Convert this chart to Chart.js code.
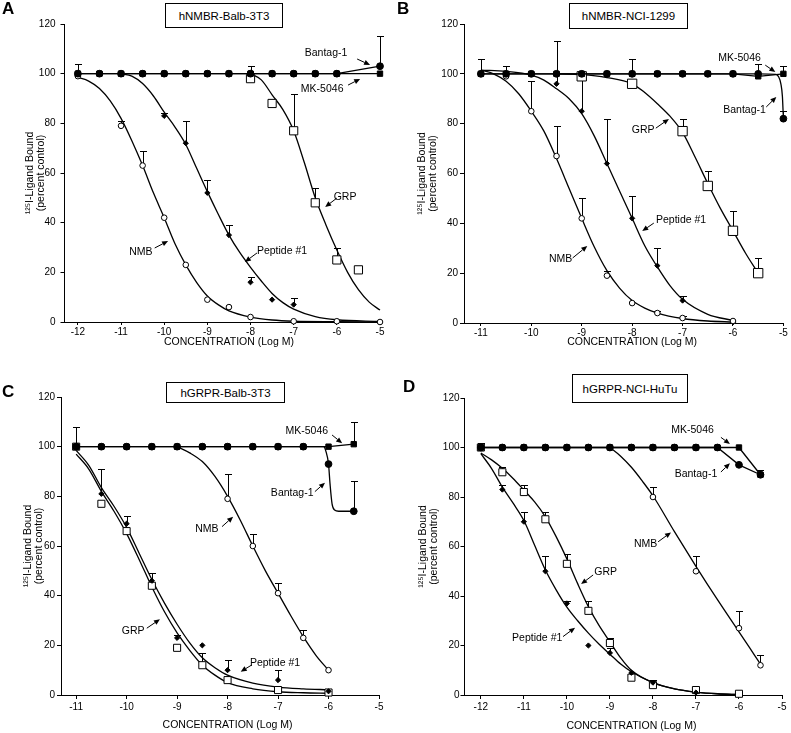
<!DOCTYPE html>
<html><head><meta charset="utf-8">
<script src="https://cdn.jsdelivr.net/npm/chart.js@4/dist/chart.umd.min.js"></script>
<style>
html,body{margin:0;padding:0;background:#fff;overflow:hidden;width:791px;height:733px}
.panel{position:absolute}
.letter{position:absolute;font:bold 17px "Liberation Sans",Arial,sans-serif;line-height:17px;color:#000}
.tbox{position:absolute;border:1px solid #000;box-sizing:border-box;display:flex;align-items:center;justify-content:center;font:11.5px "Liberation Sans",Arial,sans-serif;color:#000;background:#fff}
</style></head><body>
<script>
// ================= DATA =================
const panelLetters = ['A','B','C','D'];
const panelTitles = ['hNMBR-Balb-3T3','hNMBR-NCI-1299','hGRPR-Balb-3T3','hGRPR-NCI-HuTu'];
const xTitle = 'CONCENTRATION (Log M)';
const yTitle = ['\u00B9\u00B2\u2075I-Ligand Bound','(percent control)'];
const xTicksA = [-12,-11,-10,-9,-8,-7,-6,-5];
const xTicksB = [-11,-10,-9,-8,-7,-6,-5];
const xTicksC = [-11,-10,-9,-8,-7,-6,-5];
const xTicksD = [-12,-11,-10,-9,-8,-7,-6,-5];
const yTicks = [0,20,40,60,80,100,120];

// ---- Panel A: hNMBR-Balb-3T3 ----
const A_mk_x = [-12,-11.5,-11,-10.5,-10,-9.5,-9,-8.5,-8,-7.5,-7,-6.5,-6,-5];
const A_mk_y = [100,100,100,100,100,100,100,100,100,100,100,100,100,100];
const A_mk_e = [104,null,null,null,null,null,null,null,103,null,null,null,null,null];
const A_bt_x = [-12,-11.5,-11,-10.5,-10,-9.5,-9,-8.5,-8,-7.5,-7,-6.5,-6,-5];
const A_bt_y = [100,100,100,100,100,100,100,100,100,100,100,100,100,103];
const A_bt_e = [null,null,null,null,null,null,null,null,null,null,null,null,null,115];
const A_nmb_x = [-12,-11,-10.5,-10,-9.5,-9,-8.5,-8,-7,-6,-5];
const A_nmb_y = [99,79,63,42,23,9,6,2,0.3,0.3,0];
const A_nmb_e = [null,81,69,null,null,null,null,null,null,null,null];
const A_pep_x = [-10,-9.5,-9,-8.5,-8,-7.5,-7];
const A_pep_y = [83,72,52,35,16,9,7];
const A_pep_e = [84,81,57,39,18,null,9.5];
const A_grp_x = [-8,-7.5,-7,-6.5,-6,-5.5];
const A_grp_y = [98,88,77,48,25,21];
const A_grp_e = [null,null,92,54,30,null];
const A_nmb_cx = [-12,-11.75,-11.5,-11.25,-11,-10.75,-10.5,-10.25,-10,-9.75,-9.5,-9.25,-9,-8.75,-8.5,-8,-7.5,-7,-6,-5];
const A_nmb_cy = [98.5,97,94,89,82,73,63,52,42,31.5,23,16,10.5,7,4.5,2,0.8,0.3,0.1,0];
const A_pep_cx = [-11,-10.75,-10.5,-10.25,-10,-9.75,-9.5,-9.25,-9,-8.75,-8.5,-8.25,-8,-7.75,-7.5,-7.25,-7,-6.5,-6,-5];
const A_pep_cy = [100,99,96,91,84.5,78.5,71.5,62,52.5,43.5,35,28,22,16.5,11.5,7.8,5.2,2.2,0.9,0.2];
const A_grp_cx = [-8,-7.75,-7.5,-7.25,-7,-6.75,-6.5,-6.25,-6,-5.75,-5.5,-5.25,-5];
const A_grp_cy = [100,97.5,91.5,85.5,77,64,50,39,29,20,13,8,4.8];

// ---- Panel B: hNMBR-NCI-1299 ----
const B_mk_x = [-11,-10.5,-10,-9.5,-9,-8.5,-8,-7.5,-7,-6.5,-6,-5.5,-5];
const B_mk_y = [100,100,100,100,100,100,100,100,100,100,100,99,100];
const B_mk_e = [106,103,null,null,null,null,106,null,null,null,null,104,103];
const B_bt_x = [-11,-10.5,-10,-9.5,-9,-8.5,-8,-7.5,-7,-6.5,-6,-5.5,-5];
const B_bt_y = [100,100,100,100,100,100,100,100,100,100,100,100,82];
const B_bt_e = [null,null,null,null,null,null,null,null,null,null,null,null,85];
const B_nmb_x = [-11,-10.5,-10,-9.5,-9,-8.5,-8,-7.5,-7,-6];
const B_nmb_y = [100,99,85,67,42,19,8,4,2,0.8];
const B_nmb_e = [null,null,97,79,50,21,null,5,3,null];
const B_pep_x = [-9.5,-9,-8.5,-8,-7.5,-7,-6];
const B_pep_y = [96,85,64,42,23,9,0.3];
const B_pep_e = [113,100,82,51,30,11,null];
const B_grp_x = [-9,-8,-7,-6.5,-6,-5.5];
const B_grp_y = [99,96,77,55,37,20];
const B_grp_e = [null,null,82,61,45,26];
const B_nmb_cx = [-11,-10.75,-10.5,-10.25,-10,-9.75,-9.5,-9.25,-9,-8.75,-8.5,-8.25,-8,-7.75,-7.5,-7,-6.5,-6];
const B_nmb_cy = [101.5,100,97,92,85,77,66,54,42,30.5,21,14,9,6,4,1.8,0.8,0.4];
const B_pep_cx = [-11,-10.5,-10,-9.75,-9.5,-9.25,-9,-8.75,-8.5,-8.25,-8,-7.75,-7.5,-7.25,-7,-6.5,-6];
const B_pep_cy = [101.5,101,99.5,97.5,94,90,84,75,64,53,42,31,22.5,15,9.5,3.5,1];
const B_grp_cx = [-9.5,-9,-8.5,-8,-7.75,-7.5,-7.25,-7,-6.75,-6.5,-6.25,-6,-5.75,-5.5];
const B_grp_cy = [100,99.7,98.5,96,92.5,88,83,76.5,66.5,56,46,37,28,20];
const B_bt_cx = [-11,-5.5,-5.15,-5.1,-5.05,-5.02,-5];
const B_bt_cy = [100,100,99.8,99,96,91,82];

// ---- Panel C: hGRPR-Balb-3T3 ----
const C_mk_x = [-11,-10.5,-10,-9.5,-9,-8.5,-8,-7.5,-7,-6.5,-6,-5.5];
const C_mk_y = [100,100,100,100,100,100,100,100,100,100,100,101];
const C_mk_e = [108,null,null,null,null,null,null,null,null,null,null,110];
const C_bt_x = [-11,-10.5,-10,-9.5,-9,-8.5,-8,-7.5,-7,-6.5,-6,-5.5];
const C_bt_y = [100,100,100,100,100,100,100,100,100,100,93,74];
const C_bt_e = [null,null,null,null,null,null,null,null,null,null,null,86];
const C_nmb_x = [-8,-7.5,-7,-6.5,-6];
const C_nmb_y = [79,60,41,23,10];
const C_nmb_e = [89,65,45,26,null];
const C_grp_x = [-11,-10.5,-10,-9.5,-9,-8.5,-8,-7,-6];
const C_grp_y = [100,77,66,44,19,12,6,2,1];
const C_grp_e = [null,null,null,null,null,17,null,null,null];
const C_pep_x = [-10.5,-10,-9.5,-9,-8.5,-8,-7,-6];
const C_pep_y = [81,69,46,23,20,10,6,1.5];
const C_pep_e = [91,72,49,24,null,14,10,null];
const C_nmb_cx = [-9,-8.75,-8.5,-8.25,-8,-7.75,-7.5,-7.25,-7,-6.75,-6.5,-6.25,-6];
const C_nmb_cy = [100,97.5,94,88,80,70.5,60,50,41,32,23.5,16,10];
const C_grp_cx = [-11,-10.75,-10.5,-10.25,-10,-9.75,-9.5,-9.25,-9,-8.75,-8.5,-8.25,-8,-7.5,-7,-6.5,-6];
const C_grp_cy = [97,91,82,74,65,54.5,43.5,33.5,25,18,12,8,5,2.5,1.3,0.9,0.7];
const C_pep_cx = [-11,-10.75,-10.5,-10.25,-10,-9.75,-9.5,-9.25,-9,-8.75,-8.5,-8.25,-8,-7.5,-7,-6.5,-6];
const C_pep_cy = [98.5,92.5,83.5,76,67.5,57,46.5,37,28.5,21,15,11,8,4.8,3.2,2.5,2.1];
const C_bt_cx = [-11,-6.1,-6.05,-6,-5.97,-5.93,-5.88,-5.8,-5.5];
const C_bt_cy = [100,100,98,93,85,77,74.5,74,74];

// ---- Panel D: hGRPR-NCI-HuTu ----
const D_mk_x = [-12,-11.5,-11,-10.5,-10,-9.5,-9,-8.5,-8,-7.5,-7,-6.5,-6,-5.5];
const D_mk_y = [100,100,100,100,100,100,100,100,100,100,100,100,100,89];
const D_mk_e = [102,null,null,null,null,null,null,null,null,null,null,null,null,91];
const D_bt_x = [-12,-11.5,-11,-10.5,-10,-9.5,-9,-8.5,-8,-7.5,-7,-6.5,-6,-5.5];
const D_bt_y = [100,100,100,100,100,100,100,100,100,100,100,100,93,89];
const D_bt_e = [null,null,null,null,null,null,null,null,null,null,null,null,null,null];
const D_nmb_x = [-8,-7,-6,-5.5];
const D_nmb_y = [80,50,27,12];
const D_nmb_e = [84,56,34,16];
const D_grp_x = [-12,-11.5,-11,-10.5,-10,-9.5,-9,-8.5,-8,-7,-6];
const D_grp_y = [100,90,82,71,53,34,21,7,4,2,0.5];
const D_grp_e = [null,92,85,74,57,38,23,null,6,null,null];
const D_pep_x = [-11.5,-11,-10.5,-10,-9.5,-9,-8.5,-8,-7];
const D_pep_y = [83,70,50,37,20,17,9,5,1];
const D_pep_e = [85,74,56,38,null,19,null,null,null];
const D_nmb_cx = [-9,-8.75,-8.5,-8.25,-8,-7.5,-7,-6.5,-6,-5.75,-5.5];
const D_nmb_cy = [100,96.5,92,86.5,80.5,66,52,38.5,25.5,19,12.5];
const D_grp_cx = [-12,-11.75,-11.5,-11.25,-11,-10.75,-10.5,-10.25,-10,-9.75,-9.5,-9.25,-9,-8.75,-8.5,-8,-7.5,-7,-6.5,-6];
const D_grp_cy = [97.8,95,91.6,87.5,82.8,78,72,64,55,45,35.7,28,21.5,15,10,5,2.5,1.2,0.5,0.2];
const D_pep_cx = [-12,-11.75,-11.5,-11.25,-11,-10.75,-10.5,-10.25,-10,-9.75,-9.5,-9.25,-9,-8.75,-8.5,-8,-7.5,-7,-6.5,-6];
const D_pep_cy = [97.5,91.5,84,77.5,70.5,60.5,50.5,42.5,35.5,30,25,20.5,16.5,12.5,9.4,5,2.5,1.2,0.5,0.2];

// ================= LAYOUT / STYLE =================
const FONT = '"Liberation Sans", Arial, sans-serif';
const layouts = [
  {left:0,   top:0,   w:395, h:360, area:{l:64.5,t:24,r:380,b:322}, xmin:-12.31, xt:xTicksA, tl:3, tpx:1, tpy:5,   ytPad:24.5, xtY:342, box:[165,3,118,25],  let:[2,0]},
  {left:395, top:0,   w:396, h:360, area:{l:69,  t:24,r:390,b:323}, xmin:-11.335,xt:xTicksB, tl:3, tpx:1, tpy:2,   ytPad:22,   xtY:342, box:[174,3,119,26],  let:[2,0]},
  {left:0,   top:360, w:395, h:373, area:{l:61,  t:37,r:379,b:335}, xmin:-11.30, xt:xTicksC, tl:4, tpx:2, tpy:2,   ytPad:22.5, xtY:365, box:[166,22,119,21], let:[2,23]},
  {left:395, top:360, w:396, h:373, area:{l:69.5,t:38,r:387,b:335}, xmin:-12.38, xt:xTicksD, tl:4, tpx:2, tpy:1,   ytPad:22.5, xtY:366, box:[177,14,116,29], let:[8,18]}
];
const styles = {
  'MK-5046':   {pointStyle:'rect',    r:3.8, fill:'#000'},
  'Bantag-1':  {pointStyle:'circle',  r:3.4, fill:'#000'},
  'NMB':       {pointStyle:'circle',  r:2.8, fill:'#fff'},
  'Peptide #1':{pointStyle:'rectRot', r:2.6, fill:'#000'},
  'GRP':       {pointStyle:'rect',    r:5.6, fill:'#fff'}
};
const grpSize = [5.8, 6.6, 5.0, 5.0];

const annotations = [
  [ {t:'Bantag-1', x:-6.25, y:108.3, a:[-5.53,105.9,-5.23,103.5]},
    {t:'MK-5046', x:-6.34, y:93.8, a:[-5.74,95.4,-5.46,97.9]},
    {t:'GRP', x:-5.81, y:50.3, a:[-6.0,49.9,-6.27,46.3]},
    {t:'NMB', x:-10.54, y:28.2, a:[-10.22,29.8,-9.91,32.6]},
    {t:'Peptide #1', x:-7.27, y:28.6, a:[-7.85,27.8,-8.13,24.2]} ],
  [ {t:'MK-5046', x:-5.87, y:106.3, a:[-5.36,103.5,-5.16,100.7]},
    {t:'Bantag-1', x:-5.77, y:85.5, a:[-5.34,86.7,-5.14,90.7]},
    {t:'GRP', x:-7.78, y:77.4, a:[-7.53,78.2,-7.27,81.9]},
    {t:'Peptide #1', x:-7.03, y:41.3, a:[-7.57,40.1,-7.80,36.9]},
    {t:'NMB', x:-9.42, y:25.7, a:[-9.18,26.1,-8.89,30.9]} ],
  [ {t:'MK-5046', x:-6.43, y:106.3, a:[-5.93,104.7,-5.73,101.4]},
    {t:'Bantag-1', x:-6.72, y:81.4, a:[-6.27,81.9,-6.07,85.5]},
    {t:'NMB', x:-8.41, y:66.9, a:[-8.11,67.8,-7.89,71.8]},
    {t:'GRP', x:-9.87, y:25.8, a:[-9.60,26.9,-9.34,30.5]},
    {t:'Peptide #1', x:-7.06, y:12.9, a:[-7.52,12.1,-7.74,9.4]} ],
  [ {t:'MK-5046', x:-7.08, y:107.1, a:[-6.42,104.1,-6.21,101.4]},
    {t:'Bantag-1', x:-7.0, y:89.3, a:[-6.42,90.1,-6.21,93.6]},
    {t:'NMB', x:-8.17, y:61.0, a:[-7.88,61.9,-7.58,65.7]},
    {t:'GRP', x:-9.10, y:49.7, a:[-9.39,48.5,-9.67,44.8]},
    {t:'Peptide #1', x:-10.69, y:23.0, a:[-10.09,23.6,-9.81,27.2]} ]
];

// ================= BUILDERS =================
function pts(xs, ys){ return xs.map((x,i)=>({x:x, y:ys[i]})); }
function markerDS(name, xs, ys, es, line, rOverride){
  const s = styles[name];
  return {label:name, data:pts(xs,ys), errHi:es, showLine:!!line, tension:0,
    borderColor:'#000', borderWidth:1.3, pointStyle:s.pointStyle, pointRadius:rOverride||s.r,
    pointBackgroundColor:s.fill, pointBorderColor:'#000', pointBorderWidth:1,
    order:0, clip:false};
}
function curveDS(name, xs, ys){
  return {label:name+' fit', data:pts(xs,ys), showLine:true, pointRadius:0, borderColor:'#000',
    borderWidth:1.3, cubicInterpolationMode:'monotone', order:1, clip:false, fill:false};
}

const panelDatasets = [
  [ markerDS('Bantag-1',A_bt_x,A_bt_y,A_bt_e,true), markerDS('MK-5046',A_mk_x,A_mk_y,A_mk_e,true),
    markerDS('NMB',A_nmb_x,A_nmb_y,A_nmb_e), markerDS('Peptide #1',A_pep_x,A_pep_y,A_pep_e),
    markerDS('GRP',A_grp_x,A_grp_y,A_grp_e,false,grpSize[0]),
    curveDS('NMB',A_nmb_cx,A_nmb_cy), curveDS('Peptide #1',A_pep_cx,A_pep_cy), curveDS('GRP',A_grp_cx,A_grp_cy) ],
  [ markerDS('Bantag-1',B_bt_x,B_bt_y,B_bt_e), markerDS('MK-5046',B_mk_x,B_mk_y,B_mk_e,true),
    markerDS('NMB',B_nmb_x,B_nmb_y,B_nmb_e), markerDS('Peptide #1',B_pep_x,B_pep_y,B_pep_e),
    markerDS('GRP',B_grp_x,B_grp_y,B_grp_e,false,grpSize[1]),
    curveDS('NMB',B_nmb_cx,B_nmb_cy), curveDS('Peptide #1',B_pep_cx,B_pep_cy), curveDS('GRP',B_grp_cx,B_grp_cy),
    curveDS('Bantag-1',B_bt_cx,B_bt_cy) ],
  [ markerDS('Bantag-1',C_bt_x,C_bt_y,C_bt_e), markerDS('MK-5046',C_mk_x,C_mk_y,C_mk_e,true),
    markerDS('NMB',C_nmb_x,C_nmb_y,C_nmb_e), markerDS('Peptide #1',C_pep_x,C_pep_y,C_pep_e),
    markerDS('GRP',C_grp_x,C_grp_y,C_grp_e,false,grpSize[2]),
    curveDS('NMB',C_nmb_cx,C_nmb_cy), curveDS('Peptide #1',C_pep_cx,C_pep_cy), curveDS('GRP',C_grp_cx,C_grp_cy),
    curveDS('Bantag-1',C_bt_cx,C_bt_cy) ],
  [ markerDS('Bantag-1',D_bt_x,D_bt_y,D_bt_e,true), markerDS('MK-5046',D_mk_x,D_mk_y,D_mk_e,true),
    markerDS('NMB',D_nmb_x,D_nmb_y,D_nmb_e), markerDS('Peptide #1',D_pep_x,D_pep_y,D_pep_e),
    markerDS('GRP',D_grp_x,D_grp_y,D_grp_e,false,grpSize[3]),
    curveDS('NMB',D_nmb_cx,D_nmb_cy), curveDS('Peptide #1',D_pep_cx,D_pep_cy), curveDS('GRP',D_grp_cx,D_grp_cy) ]
];

// ================= PLUGINS =================
const errorBarsPlugin = {
  id:'errorBars',
  beforeDatasetsDraw(chart){
    const ctx = chart.ctx, xs = chart.scales.x, ys = chart.scales.y;
    ctx.save(); ctx.strokeStyle = '#000'; ctx.lineWidth = 1;
    chart.data.datasets.forEach(ds=>{
      if(!ds.errHi) return;
      ds.data.forEach((p,j)=>{
        const e = ds.errHi[j]; if(e==null) return;
        const px = Math.round(xs.getPixelForValue(p.x))+0.5;
        const py0 = ys.getPixelForValue(p.y), py1 = Math.round(ys.getPixelForValue(e))+0.5;
        ctx.beginPath(); ctx.moveTo(px,py0); ctx.lineTo(px,py1);
        ctx.moveTo(px-3.5,py1); ctx.lineTo(px+3.5,py1); ctx.stroke();
      });
    });
    ctx.restore();
  }
};
const arrowLabelsPlugin = {
  id:'arrowLabels',
  afterDatasetsDraw(chart, args, opts){
    const ctx = chart.ctx, xs = chart.scales.x, ys = chart.scales.y;
    ctx.save();
    ctx.font = '10.5px '+FONT; ctx.fillStyle = '#000'; ctx.strokeStyle = '#000'; ctx.lineWidth = 1;
    ctx.textAlign = 'center'; ctx.textBaseline = 'middle';
    (opts.items||[]).forEach(it=>{
      ctx.fillText(it.t, xs.getPixelForValue(it.x), ys.getPixelForValue(it.y));
      const x0 = xs.getPixelForValue(it.a[0]), y0 = ys.getPixelForValue(it.a[1]);
      const x1 = xs.getPixelForValue(it.a[2]), y1 = ys.getPixelForValue(it.a[3]);
      const ang = Math.atan2(y1-y0, x1-x0), L = 6, W = 2.6;
      const bx = x1 - L*Math.cos(ang), by = y1 - L*Math.sin(ang);
      ctx.beginPath(); ctx.moveTo(x0,y0); ctx.lineTo(bx,by); ctx.stroke();
      ctx.beginPath(); ctx.moveTo(x1,y1);
      ctx.lineTo(bx + W*Math.sin(ang), by - W*Math.cos(ang));
      ctx.lineTo(bx - W*Math.sin(ang), by + W*Math.cos(ang));
      ctx.closePath(); ctx.fill();
    });
    ctx.restore();
  }
};
const xTitlePlugin = {
  id:'xTitle',
  afterDraw(chart, args, opts){
    const ctx = chart.ctx, xs = chart.scales.x;
    const t = xs.ticks;
    const cx = (xs.getPixelForValue(t[0].value) + xs.getPixelForValue(t[t.length-1].value))/2;
    ctx.save(); ctx.font = '10.5px '+FONT; ctx.fillStyle = '#000';
    ctx.textAlign = 'center'; ctx.textBaseline = 'middle';
    ctx.fillText(opts.text, cx, opts.y);
    ctx.restore();
  }
};

// ================= RENDER =================
Chart.defaults.font.family = FONT;
Chart.defaults.color = '#000';

layouts.forEach((L, k)=>{
  const div = document.createElement('div');
  div.className = 'panel';
  div.style.cssText = `left:${L.left}px;top:${L.top}px;width:${L.w}px;height:${L.h}px`;
  const cv = document.createElement('canvas');
  cv.width = L.w; cv.height = L.h;
  cv.style.cssText = `width:${L.w}px;height:${L.h}px;display:block`;
  div.appendChild(cv);
  const lt = document.createElement('div');
  lt.className = 'letter'; lt.textContent = panelLetters[k];
  lt.style.left = L.let[0]+'px'; lt.style.top = L.let[1]+'px';
  div.appendChild(lt);
  const bx = document.createElement('div');
  bx.className = 'tbox'; bx.textContent = panelTitles[k];
  bx.style.cssText += `left:${L.box[0]}px;top:${L.box[1]}px;width:${L.box[2]}px;height:${L.box[3]}px`;
  div.appendChild(bx);
  document.body.appendChild(div);

  new Chart(cv.getContext('2d'), {
    type:'scatter',
    data:{datasets: panelDatasets[k]},
    plugins:[errorBarsPlugin, arrowLabelsPlugin, xTitlePlugin],
    options:{
      responsive:false, animation:false, devicePixelRatio:1,
      layout:{padding:{left:0, top:L.area.t, right:L.w - L.area.r, bottom:0}},
      plugins:{
        legend:{display:false}, tooltip:{enabled:false},
        arrowLabels:{items: annotations[k]},
        xTitle:{text: xTitle, y: L.xtY}
      },
      scales:{
        x:{type:'linear', min:L.xmin, max:-5,
          afterBuildTicks:s=>{ s.ticks = L.xt.map(v=>({value:v})); },
          afterFit:s=>{ s.height = L.h - L.area.b; s.paddingLeft = 0; s.paddingRight = 0; },
          border:{display:true, color:'#000', width:1},
          grid:{drawOnChartArea:false, drawTicks:true, tickLength:L.tl, color:'#000', lineWidth:1},
          ticks:{padding:L.tpx, font:{size:10}, color:'#000', maxRotation:0, autoSkip:false, callback:v=>String(v)}
        },
        y:{type:'linear', min:0, max:120,
          afterBuildTicks:s=>{ s.ticks = yTicks.map(v=>({value:v})); },
          afterFit:s=>{ s.width = L.area.l; s.paddingTop = 0; s.paddingBottom = 0; },
          border:{display:true, color:'#000', width:1},
          grid:{drawOnChartArea:false, drawTicks:true, tickLength:4, color:'#000', lineWidth:1},
          ticks:{padding:L.tpy, font:{size:10}, color:'#000', callback:v=>String(v)},
          title:{display:true, text:yTitle, font:{size:10.5, lineHeight:1.05}, color:'#000', padding:{top:L.ytPad, bottom:0}}
        }
      }
    }
  });
});
</script>
</body></html>
